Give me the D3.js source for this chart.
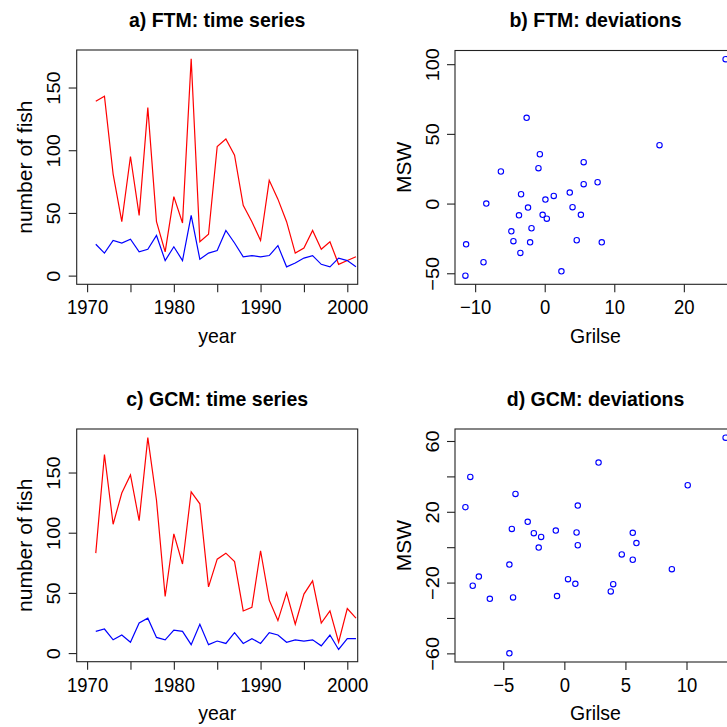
<!DOCTYPE html>
<html>
<head>
<meta charset="utf-8">
<script src="https://cdn.jsdelivr.net/npm/d3@7"></script>
<style>
  html, body { margin: 0; padding: 0; background: #fff; }
  svg { display: block; }
  text { font-family: "Liberation Sans", Arial, Helvetica, sans-serif; fill: #000; }
</style>
</head>
<body>
<svg id="chart" width="727" height="727"></svg>
<script>
// Years of record
const years = d3.range(1971, 2002);

// FTM: annual counts (red = MSW, blue = grilse)
const ftmMSW = [139, 143, 81, 43, 95, 48, 134, 43, 19, 63, 42, 173, 27, 33, 103, 109,
  96, 56, 43, 28, 76, 61, 43, 18, 22, 36, 21, 27, 9, 12, 15];
const ftmGrilse = [25, 18, 28, 26, 29, 19, 21, 32, 12, 23, 12, 48, 13, 18, 20, 36,
  26, 15, 16, 15, 16, 24, 7, 10, 14, 16, 9, 7, 14, 12, 7];

// GCM: annual counts (red = MSW, blue = grilse)
const gcmMSW = [83, 165, 107, 133, 148, 110, 179, 127, 47, 99, 74, 134, 124, 55, 78, 83,
  76, 35, 38, 85, 44, 27, 50, 24, 49, 60, 25, 35, 9, 37, 29];
const gcmGrilse = [18, 20, 11, 15, 9, 25, 29, 13, 11, 19, 18, 7, 24, 7, 10, 8,
  17, 8, 12, 8, 17, 15, 9, 11, 10, 11, 6, 15, 3, 12, 12];

// FTM deviations: grilse vs MSW
const ftmDevGrilse = [26.0, -2.6, 16.5, -0.7, 5.6, -6.3, -0.9, 7.6, 5.6, 3.6, -3.4, 1.3,
  0.1, -8.4, -2.4, 4.0, -3.7, -0.3, 5.2, 0.3, -1.9, -4.8, -4.5, -2.1, 4.6, 8.2, -11.3,
  -3.5, -8.8, 2.4, -11.4];
const ftmDevMSW = [103.6, 61.5, 41.9, 35.4, 29.7, 23.0, 25.4, 15.3, 13.9, 7.9, 6.7, 5.5,
  2.9, 0.0, -2.9, -2.6, -8.4, -8.1, -8.1, -10.8, -17.7, -19.9, -27.0, -27.8, -26.3,
  -27.8, -29.2, -35.4, -42.1, -48.6, -51.7];

// GCM deviations: grilse vs MSW
const gcmDevGrilse = [13.2, 2.8, -7.7, 10.1, -4.0, -8.1, 1.1, -3.0, -4.3, -0.7, -2.5, 1.0,
  5.6, -1.9, 5.9, 1.1, -2.1, 4.7, 5.6, -4.5, 8.8, -7.0, 0.3, -7.5, 4.0, 0.9, 3.8, -0.6,
  -4.2, -6.1, -4.5];
const gcmDevMSW = [61.9, 47.8, 39.7, 35.0, 30.1, 22.6, 23.5, 14.3, 10.3, 9.4, 7.9, 8.3,
  8.1, 5.8, 2.3, 1.1, -0.2, -4.1, -7.1, -9.8, -12.4, -16.6, -18.1, -21.8, -20.9, -20.7,
  -25.0, -27.6, -28.4, -29.2, -60.0];

// Tick values and the subset that carries a label
const yearTicks = [1970, 1975, 1980, 1985, 1990, 1995, 2000];
const yearLabels = [1970, 1980, 1990, 2000];
const countTicks = [0, 50, 100, 150];
const ftmDevXTicks = [-10, 0, 10, 20];
const ftmDevYTicks = [-50, 0, 50, 100];
const gcmDevXTicks = [-5, 0, 5, 10];
const gcmDevYTicks = [-60, -40, -20, 0, 20, 40, 60];
const gcmDevYLabels = [-60, -20, 20, 60];

const titles = ["a) FTM: time series", "b) FTM: deviations", "c) GCM: time series", "d) GCM: deviations"];

const RED = "#ff0000", BLUE = "#0000ff";
const SY = 1.08; // glyphs are drawn slightly taller than wide
const svg = d3.select("#chart");

// Panel frames (plot regions)
const frames = [
  { x0: 76.7, x1: 357.7, y0: 50, y1: 284.3 },
  { x0: 455, x1: 736, y0: 50.5, y1: 284.3 },
  { x0: 76.7, x1: 357.7, y0: 429, y1: 661.7 },
  { x0: 455, x1: 736, y0: 429, y1: 662 }
];

const fmt = v => (v < 0 ? "\u2212" + Math.abs(v) : String(v));
const pad = (lo, hi) => { const d = (hi - lo) * 0.04; return [lo - d, hi + d]; };

function label(g, x, y, txt, size, opts = {}) {
  const rot = opts.rotate ? " rotate(-90)" : "";
  return g.append("text")
    .attr("transform", `translate(${x},${y}) scale(1,${SY})${rot}`)
    .attr("text-anchor", "middle")
    .style("font-size", size + "px")
    .style("font-weight", opts.bold ? "bold" : null)
    .text(txt);
}

function panel(f, title, xDom, yDom, opts) {
  const g = svg.append("g");
  const x = d3.scaleLinear().domain(xDom).range([f.x0, f.x1]);
  const y = d3.scaleLinear().domain(yDom).range([f.y1, f.y0]);

  // title
  label(g, (f.x0 + f.x1) / 2, f.y0 - 23.5, title, 19.5, { bold: true });

  // marks
  opts.draw(g, x, y);

  // box
  g.append("rect")
    .attr("x", f.x0).attr("y", f.y0)
    .attr("width", f.x1 - f.x0).attr("height", f.y1 - f.y0)
    .attr("fill", "none").attr("stroke", "#222").attr("stroke-width", 1.1);

  // x axis
  const xa = d3.axisBottom(x).tickValues(opts.xTicks).tickSize(8).tickPadding(0)
    .tickFormat(d => (opts.xLabels.includes(d) ? fmt(d) : ""));
  const gx = g.append("g").attr("transform", `translate(0,${f.y1})`).call(xa);
  gx.select(".domain").remove();
  gx.selectAll(".tick line").attr("stroke", "#222").attr("stroke-width", 1.1);
  gx.selectAll(".tick text").attr("y", null).attr("dy", null)
    .attr("transform", `translate(0,30) scale(1,${SY})`)
    .style("font-size", "18.5px").style("font-family", null);

  // y axis (labels parallel to the axis)
  const ya = d3.axisLeft(y).tickValues(opts.yTicks).tickSize(8).tickPadding(0)
    .tickFormat(d => (opts.yLabels.includes(d) ? fmt(d) : ""));
  const gy = g.append("g").attr("transform", `translate(${f.x0},0)`).call(ya);
  gy.select(".domain").remove();
  gy.selectAll(".tick line").attr("stroke", "#222").attr("stroke-width", 1.1);
  gy.selectAll(".tick text")
    .attr("x", null).attr("dy", null)
    .attr("transform", `translate(-16.5,0) scale(1,${SY}) rotate(-90)`)
    .attr("text-anchor", "middle")
    .style("font-size", "18.5px").style("font-family", null);

  // axis titles
  label(g, (f.x0 + f.x1) / 2, f.y1 + 58.4, opts.xTitle, 19.5);
  label(g, f.x0 - 44.5, (f.y0 + f.y1) / 2, opts.yTitle, 19.5, { rotate: true });
}

function seriesPanel(f, title, red, blue) {
  const yMax = d3.max(red.concat(blue));
  panel(f, title, pad(1970, 2000), pad(0, yMax), {
    xTicks: yearTicks, xLabels: yearLabels,
    yTicks: countTicks, yLabels: countTicks,
    xTitle: "year", yTitle: "number of fish",
    draw(g, x, y) {
      const line = vals => d3.line().x((d, i) => x(years[i])).y(d => y(d))(vals);
      g.append("path").attr("d", line(red)).attr("fill", "none")
        .attr("stroke", RED).attr("stroke-width", 1.2).attr("stroke-linejoin", "miter");
      g.append("path").attr("d", line(blue)).attr("fill", "none")
        .attr("stroke", BLUE).attr("stroke-width", 1.2).attr("stroke-linejoin", "miter");
    }
  });
}

function devPanel(f, title, gx, gy, xTicks, yTicks, yLabels) {
  panel(f, title, pad(d3.min(gx), d3.max(gx)), pad(d3.min(gy), d3.max(gy)), {
    xTicks: xTicks, xLabels: xTicks,
    yTicks: yTicks, yLabels: yLabels,
    xTitle: "Grilse", yTitle: "MSW",
    draw(g, x, y) {
      g.selectAll("circle.pt").data(gx).join("circle")
        .attr("class", "pt")
        .attr("cx", d => x(d))
        .attr("cy", (d, i) => y(gy[i]))
        .attr("r", 2.7)
        .attr("fill", "none").attr("stroke", BLUE).attr("stroke-width", 1.1);
    }
  });
}

seriesPanel(frames[0], titles[0], ftmMSW, ftmGrilse);
devPanel(frames[1], titles[1], ftmDevGrilse, ftmDevMSW, ftmDevXTicks, ftmDevYTicks, ftmDevYTicks);
seriesPanel(frames[2], titles[2], gcmMSW, gcmGrilse);
devPanel(frames[3], titles[3], gcmDevGrilse, gcmDevMSW, gcmDevXTicks, gcmDevYTicks, gcmDevYLabels);
</script>
</body>
</html>
